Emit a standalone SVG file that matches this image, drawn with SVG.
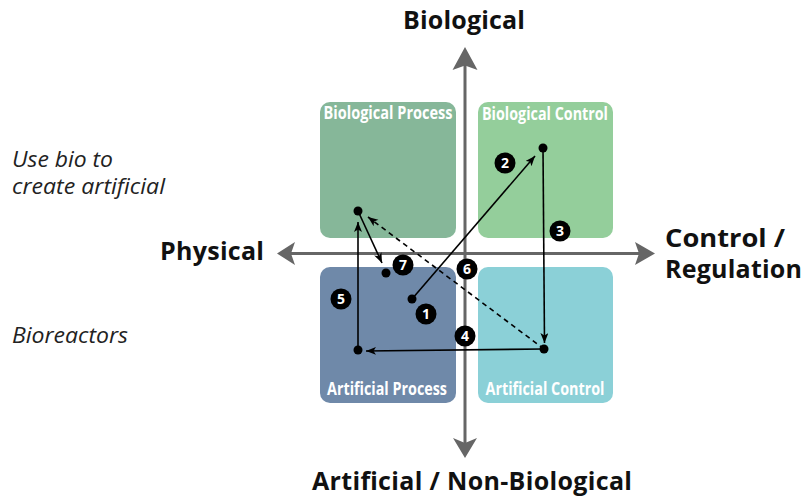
<svg xmlns="http://www.w3.org/2000/svg" width="806" height="499" viewBox="0 0 806 499">
  <style>
    .axis { stroke: #666; stroke-width: 3; fill: none; }
    .axhead { fill: #666; }
    .axlabel { font-family: "Open Sans", "Liberation Sans", sans-serif; font-weight: 700; font-size: 25px; fill: #111; }
    .note { font-family: "Open Sans", "Liberation Sans", sans-serif; font-style: italic; font-size: 21px; fill: #222; }
    .qlabel { font-family: "Open Sans", "Liberation Sans", sans-serif; font-weight: 700; font-size: 17px; fill: #fff; text-anchor: middle; }
    .conn { stroke: #000; stroke-width: 1.6; fill: none; }
    .dash { stroke-dasharray: 5 4; }
    .dot { fill: #000; }
    .badge circle { fill: #000; }
    .badge text { font-family: "Open Sans", "Liberation Sans", sans-serif; font-weight: 700; font-size: 14px; fill: #fff; text-anchor: middle; }
  </style>
  <defs>
    <marker id="arr" markerWidth="12" markerHeight="10" refX="10" refY="4" orient="auto" markerUnits="userSpaceOnUse">
      <path d="M0,0 L10,4 L0,8 L2.5,4 z" fill="#000"/>
    </marker>
  </defs>
  <rect width="806" height="499" fill="#fff"/>

  <!-- axes -->
  <g id="axes">
    <line class="axis" x1="465" y1="64" x2="465" y2="444"/>
    <line class="axis" x1="290" y1="253.5" x2="640" y2="253.5"/>
    <path class="axhead" d="M465,47 L477.5,70 L465,65.5 L452.5,70 z"/>
    <path class="axhead" d="M465,458 L477,438 L465,443 L453,438 z"/>
    <path class="axhead" d="M277,253.5 L295,242 L291,253.5 L295,265 z"/>
    <path class="axhead" d="M655,253.5 L635,242 L639,253.5 L635,265 z"/>
  </g>

  <!-- axis labels -->
  <text class="axlabel" x="464" y="29" text-anchor="middle" textLength="122">Biological</text>
  <text class="axlabel" x="160" y="260" textLength="104">Physical</text>
  <text class="axlabel" x="665" y="247" textLength="120" lengthAdjust="spacingAndGlyphs">Control /</text>
  <text class="axlabel" x="665" y="278" textLength="137">Regulation</text>
  <text class="axlabel" x="472" y="490" text-anchor="middle" textLength="320">Artificial / Non-Biological</text>

  <!-- side notes -->
  <text class="note" x="12" y="167" textLength="101" lengthAdjust="spacingAndGlyphs">Use bio to</text>
  <text class="note" x="12" y="194" textLength="153" lengthAdjust="spacingAndGlyphs">create artificial</text>
  <text class="note" x="12" y="343" textLength="116" lengthAdjust="spacingAndGlyphs">Bioreactors</text>

  <!-- quadrants -->
  <g id="bio-process">
    <rect x="320" y="102" width="136" height="136" rx="10" fill="#86b799"/>
    <text class="qlabel" x="388" y="119" textLength="129" lengthAdjust="spacingAndGlyphs">Biological Process</text>
  </g>
  <g id="bio-control">
    <rect x="478" y="102" width="135" height="136" rx="10" fill="#94ce9b"/>
    <text class="qlabel" x="545" y="120" textLength="126" lengthAdjust="spacingAndGlyphs">Biological Control</text>
  </g>
  <g id="art-process">
    <rect x="320" y="267" width="136" height="136" rx="10" fill="#6f89a9"/>
    <text class="qlabel" x="387" y="395" textLength="120" lengthAdjust="spacingAndGlyphs">Artificial Process</text>
  </g>
  <g id="art-control">
    <rect x="478" y="267" width="135" height="136" rx="10" fill="#8bd0d7"/>
    <text class="qlabel" x="545" y="395" textLength="119" lengthAdjust="spacingAndGlyphs">Artificial Control</text>
  </g>

  <!-- connectors -->
  <g id="connectors">
    <line class="conn" x1="412" y1="299" x2="535" y2="156" marker-end="url(#arr)"/>
    <line class="conn" x1="543" y1="148" x2="544.5" y2="343" marker-end="url(#arr)"/>
    <line class="conn" x1="544" y1="349" x2="366" y2="351" marker-end="url(#arr)"/>
    <line class="conn" x1="358" y1="350" x2="358" y2="222" marker-end="url(#arr)"/>
    <line class="conn dash" x1="544" y1="349" x2="368" y2="217" marker-end="url(#arr)"/>
    <line class="conn" x1="358" y1="211" x2="382" y2="263" marker-end="url(#arr)"/>
  </g>

  <!-- dots -->
  <g id="points">
    <circle class="dot" cx="412" cy="299" r="4.5"/>
    <circle class="dot" cx="543" cy="148" r="4.5"/>
    <circle class="dot" cx="544" cy="349" r="4.5"/>
    <circle class="dot" cx="358" cy="350" r="4.5"/>
    <circle class="dot" cx="358" cy="211" r="4.5"/>
    <circle class="dot" cx="386" cy="273" r="4.5"/>
  </g>

  <!-- numbered badges -->
  <g id="badge-1" class="badge"><circle cx="426" cy="314" r="10.5"/><text x="426" y="319">1</text></g>
  <g id="badge-2" class="badge"><circle cx="505" cy="163" r="10.5"/><text x="505" y="168">2</text></g>
  <g id="badge-3" class="badge"><circle cx="560" cy="231" r="10.5"/><text x="560" y="236">3</text></g>
  <g id="badge-4" class="badge"><circle cx="465" cy="336" r="10.5"/><text x="465" y="341">4</text></g>
  <g id="badge-5" class="badge"><circle cx="341" cy="299" r="10.5"/><text x="341" y="304">5</text></g>
  <g id="badge-6" class="badge"><circle cx="467" cy="269" r="10.5"/><text x="467" y="274">6</text></g>
  <g id="badge-7" class="badge"><circle cx="403" cy="265" r="10.5"/><text x="403" y="270">7</text></g>
</svg>
